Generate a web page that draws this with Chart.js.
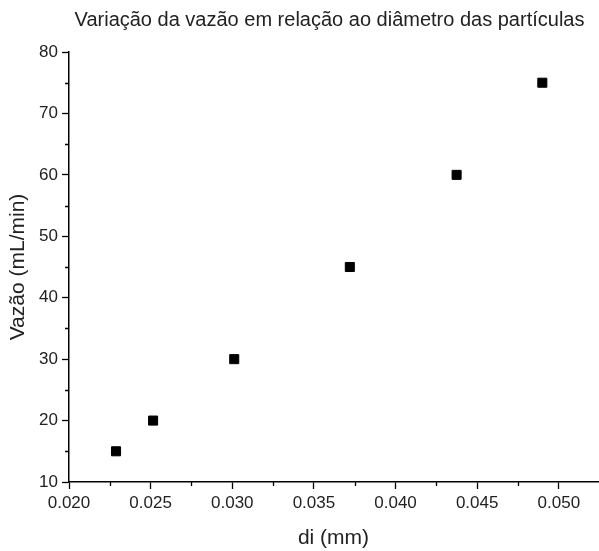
<!DOCTYPE html>
<html>
<head>
<meta charset="utf-8">
<script src="https://cdn.jsdelivr.net/npm/chart.js@4"></script>
<style>
  html, body { margin: 0; padding: 0; background: #fff; overflow: hidden; }
  #wrap { width: 599px; height: 551px; position: relative; }
  canvas { display: block; }
</style>
</head>
<body>
<div id="wrap"><canvas id="vazaoChart"></canvas></div>
<script>
const diametro = [0.02288, 0.02515, 0.03012, 0.0372, 0.04374, 0.04899];
const vazao = [15, 20, 30, 45, 60, 75];
const xTicks = [0.020, 0.025, 0.030, 0.035, 0.040, 0.045, 0.050];
const yTicks = [10, 20, 30, 40, 50, 60, 70, 80];
const titulo = 'Variação da vazão em relação ao diâmetro das partículas';

const fonte = 'Arial, "Liberation Sans", sans-serif';

// titulo centrado sobre a area do grafico + ticks menores
const extras = {
    id: 'extras',
    afterDraw(chart) {
        const c = chart.ctx, a = chart.chartArea;
        const sx = chart.scales.x, sy = chart.scales.y;
        c.save();
        c.fillStyle = '#222';
        c.font = '20px ' + fonte;
        c.textAlign = 'center';
        c.textBaseline = 'middle';
        c.fillText(titulo, (a.left + a.right) / 2 - 4, 20);
        c.strokeStyle = '#000';
        c.lineWidth = 1.3;
        c.beginPath();
        for (let i = 0; i < xTicks.length; i++) {
            const px = sx.getPixelForValue(xTicks[i] + 0.0025);
            if (px > a.right) continue;
            c.moveTo(Math.round(px) + 0.5, a.bottom);
            c.lineTo(Math.round(px) + 0.5, a.bottom + 4);
        }
        for (let i = 0; i < yTicks.length - 1; i++) {
            const py = sy.getPixelForValue(yTicks[i] + 5);
            c.moveTo(a.left, Math.round(py) + 0.5);
            c.lineTo(a.left - 4, Math.round(py) + 0.5);
        }
        c.stroke();
        c.restore();
    }
};

const ctx = document.getElementById('vazaoChart').getContext('2d');
new Chart(ctx, {
    type: 'scatter',
    data: {
        datasets: [{
            label: 'Vazão',
            data: diametro.map((d, i) => ({ x: d, y: vazao[i] })),
            pointStyle: 'rect',
            pointRadius: 6.4,
            pointHoverRadius: 6.4,
            backgroundColor: '#000',
            borderColor: '#000',
            borderWidth: 1
        }]
    },
    options: {
        responsive: true,
        maintainAspectRatio: false,
        animation: false,
        layout: { autoPadding: false, padding: { top: 52, right: 1, left: 0, bottom: 0 } },
        plugins: {
            legend: { display: false },
            tooltip: { enabled: false }
        },
        scales: {
            x: {
                type: 'linear',
                min: 0.020,
                max: 0.0524,
                afterBuildTicks: s => { s.ticks = xTicks.map(v => ({ value: v })); },
                ticks: {
                    color: '#222',
                    font: { size: 17, family: fonte },
                    padding: 4,
                    maxRotation: 0,
                    callback: v => v.toFixed(3)
                },
                grid: { drawOnChartArea: false, tickLength: 7, tickColor: '#000', tickWidth: 1.3 },
                border: { color: '#000', width: 1.5 },
                title: { display: true, text: 'di (mm)', color: '#222', font: { size: 21, family: fonte }, padding: { top: 2, bottom: 0 } },
                afterFit: s => { s.height = 69; s.paddingLeft = 0; s.paddingRight = 0; }
            },
            y: {
                min: 10,
                max: 80,
                afterBuildTicks: s => { s.ticks = yTicks.map(v => ({ value: v })); },
                ticks: {
                    color: '#222',
                    font: { size: 17, family: fonte },
                    padding: 4
                },
                grid: { drawOnChartArea: false, tickLength: 7, tickColor: '#000', tickWidth: 1.3 },
                border: { color: '#000', width: 1.5 },
                title: { display: true, text: 'Vazão (mL/min)', color: '#222', font: { size: 21, family: fonte }, padding: { top: 6, bottom: 4 } },
                afterFit: s => { s.width = 69; s.paddingTop = 0; s.paddingBottom = 0; }
            }
        }
    },
    plugins: [extras]
});
</script>
</body>
</html>
